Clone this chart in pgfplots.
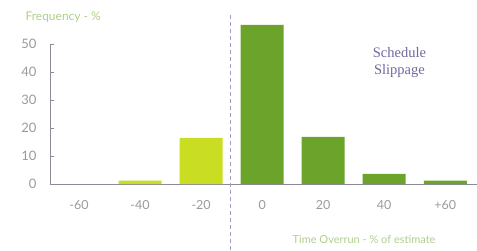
\documentclass[border=0pt]{standalone}
\usepackage{pgfplots}
\pgfplotsset{compat=1.18}
\usepackage{fontspec}
\setmainfont{Lato}
\newfontfamily\serifttl{Liberation Serif}
\definecolor{lightbar}{HTML}{C9DD22}
\definecolor{darkbar}{HTML}{6CA42B}
\definecolor{ticktxt}{HTML}{9A9A9A}
\definecolor{greentxt}{HTML}{AFCF8A}
\definecolor{purpletxt}{HTML}{6E6A9E}
\definecolor{dashcol}{HTML}{9C9CCB}
\definecolor{axcol}{HTML}{8A8A9A}
\begin{document}
\begin{tikzpicture}[x=1pt,y=1pt]
\path[use as bounding box] (-79,-66) rectangle (398,184);
\begin{axis}[
  at={(0,0)}, anchor=origin,
  scale only axis,
  width=427pt, height=140pt,
  xmin=-0.475, xmax=6.52,
  ymin=0, ymax=50,
  clip=false,
  axis x line=bottom, axis y line=left,
  axis line style={-, axcol, line width=1pt},
  xtick={0,1,2,3,4,5,6},
  xticklabels={-60,-40,-20,0,20,40,+60},
  ytick={0,10,20,30,40,50},
  /pgf/number format/assume math mode=true,
  major x tick style={draw=none},
  major y tick style={axcol, line width=0.8pt},
  tick align=inside,
  major tick length=4pt,
  tick label style={font=\fontsize{12.5}{14}\selectfont, text=ticktxt},
  xticklabel style={yshift=-9pt},
  yticklabel style={xshift=-10pt, font=\fontsize{13}{15}\selectfont},
  ybar, bar width=43pt,
]
\addplot[draw=none, fill=lightbar, bar shift=0pt] coordinates {(1,1.2) (2,16.5)};
\addplot[draw=none, fill=darkbar, bar shift=0pt] coordinates {(3,56.8) (4,16.8) (5,3.6) (6,1.2)};
\addplot[sharp plot, draw=dashcol, line width=1pt, dash pattern=on 4pt off 3pt] coordinates {(2.475,-23.5) (2.475,61)};
\node[font=\fontsize{12}{14}\selectfont, text=greentxt, anchor=west] at (axis cs:-0.475,59.5) [xshift=-28pt] {Frequency - \%};
\node[font=\fontsize{11}{13}\selectfont, text=greentxt] at (axis cs:4.67,-20) {Time Overrun - \% of estimate};
\node[font=\serifttl\fontsize{14.5}{17}\selectfont, text=purpletxt, align=center] at (axis cs:5.25,43.5) {Schedule\\Slippage};
\end{axis}
\end{tikzpicture}
\end{document}
